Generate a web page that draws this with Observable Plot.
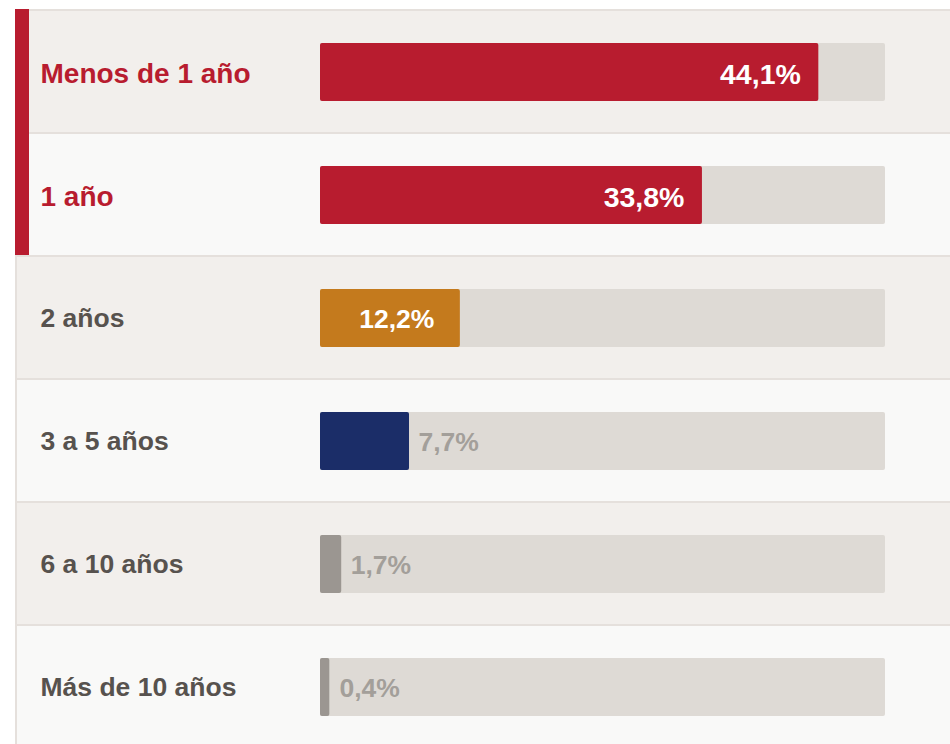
<!DOCTYPE html>
<html>
<head>
<meta charset="utf-8">
<script src="https://cdn.jsdelivr.net/npm/d3@7"></script>
<script src="https://cdn.jsdelivr.net/npm/@observablehq/plot@0.6"></script>
<style>
  html, body { margin: 0; padding: 0; background: #ffffff; }
  #chart svg { display: block; }
</style>
</head>
<body>
<div id="chart"></div>
<script>
const categories = ["Menos de 1 año", "1 año", "2 años", "3 a 5 años", "6 a 10 años", "Más de 10 años"];
const values = [44.1, 33.8, 12.2, 7.7, 1.7, 0.4];
const valueLabels = ["44,1%", "33,8%", "12,2%", "7,7%", "1,7%", "0,4%"];
const barColors = ["#b81c2f", "#b81c2f", "#c47a1d", "#1b2d68", "#9b9691", "#9b9691"];
const labelColors = ["#b81c2f", "#b81c2f", "#57524e", "#57524e", "#57524e", "#57524e"];
const rowFills = ["#f2efec", "#f9f9f8", "#f2efec", "#f9f9f8", "#f2efec", "#f9f9f8"];
const highlighted = [true, true, false, false, false, false];
const labelInside = [true, true, true, false, false, false];
const scaleMax = 50;

const rows = categories.map((c, i) => ({
  cat: c, value: values[i], label: valueLabels[i], color: barColors[i],
  labelColor: labelColors[i], rowFill: rowFills[i], hi: highlighted[i], inside: labelInside[i],
  zero: 0, max: scaleMax
}));

const font = "'Liberation Sans', Arial, Helvetica, sans-serif";
const hiRows = rows.filter(d => d.hi);
const loRows = rows.filter(d => !d.hi);
const barStyle = { y: "cat", fill: "color", insetTop: 34, insetBottom: 31, rx: 2 };

const chart = Plot.plot({
  width: 950,
  height: 744,
  marginTop: 0, marginBottom: 0, marginRight: 0, marginLeft: 15,
  style: { background: "transparent", fontFamily: font },
  x: { domain: [0, scaleMax], range: [320, 885], axis: null },
  y: { domain: categories, range: [9, 747], padding: 0, axis: null },
  color: { type: "identity" },
  marks: [
    // row separators / left border
    Plot.cell(rows, { y: "cat", fill: "#e5e0dc", inset: 0 }),
    // row backgrounds
    Plot.cell(rows, { y: "cat", fill: "rowFill", inset: 0, insetTop: 2, insetLeft: 2 }),
    // highlight accent
    Plot.cell(hiRows, { y: "cat", fill: "#b81c2f", inset: 0, insetRight: 921 }),
    // tracks
    Plot.barX(rows, { x1: "zero", x2: "max", y: "cat", fill: "#dedad5", insetTop: 34, insetBottom: 31, rx: 2 }),
    // bars
    Plot.barX(hiRows, { x1: "zero", x2: "value", ...barStyle }),
    Plot.barX(loRows.filter(d => d.value >= 1), { x1: "zero", x2: "value", ...barStyle, insetRight: -2 }),
    Plot.barX(loRows.filter(d => d.value < 1), { x1: "zero", x2: "value", ...barStyle, insetRight: -4.8 }),
    // value labels inside
    Plot.text(hiRows, {
      x: "value", y: "cat", text: "label", textAnchor: "end", dx: -18, dy: 3.8,
      fill: "#ffffff", fontWeight: "bold", fontSize: 28.5, fontFamily: font
    }),
    Plot.text(loRows.filter(d => d.inside), {
      x: "value", y: "cat", text: "label", textAnchor: "end", dx: -24, dy: 2.5,
      fill: "#ffffff", fontWeight: "bold", fontSize: 26.5, fontFamily: font
    }),
    // value labels outside
    Plot.text(loRows.filter(d => !d.inside && d.value >= 1), {
      x: "value", y: "cat", text: "label", textAnchor: "start", dx: 11, dy: 2.5,
      fill: "#a39f9a", fontWeight: "bold", fontSize: 26.5, fontFamily: font
    }),
    Plot.text(loRows.filter(d => !d.inside && d.value < 1), {
      x: "value", y: "cat", text: "label", textAnchor: "start", dx: 14.5, dy: 2.5,
      fill: "#a39f9a", fontWeight: "bold", fontSize: 26.5, fontFamily: font
    }),
    // category labels
    Plot.text(hiRows, {
      y: "cat", text: "cat", frameAnchor: "left", textAnchor: "start", dx: 25, dy: 2.8,
      fill: "labelColor", fontWeight: "bold", fontSize: 28, fontFamily: font
    }),
    Plot.text(loRows, {
      y: "cat", text: "cat", frameAnchor: "left", textAnchor: "start", dx: 25, dy: 1.8,
      fill: "labelColor", fontWeight: "bold", fontSize: 26.5, fontFamily: font
    })
  ]
});

document.getElementById("chart").appendChild(chart);
</script>
</body>
</html>
